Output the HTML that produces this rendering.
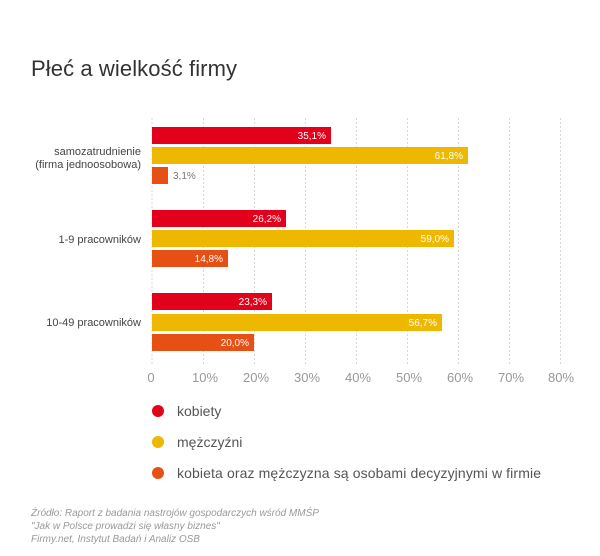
<!DOCTYPE html>
<html><head><meta charset="utf-8"><style>
body{margin:0;background:#fff;}
svg{display:block;font-family:"Liberation Sans",sans-serif;}
</style></head><body>
<svg width="600" height="556" viewBox="0 0 600 556">
<rect width="600" height="556" fill="#fff"/>
<text x="31" y="76" font-size="22" fill="#333" textLength="206">Płeć a wielkość firmy</text>
<g stroke="#d8d8d8" stroke-width="1" stroke-dasharray="2,2">
<line x1="152" y1="118" x2="152" y2="364"/>
<line x1="203.5" y1="118" x2="203.5" y2="364"/>
<line x1="254.5" y1="118" x2="254.5" y2="364"/>
<line x1="305.5" y1="118" x2="305.5" y2="364"/>
<line x1="356.5" y1="118" x2="356.5" y2="364"/>
<line x1="407.5" y1="118" x2="407.5" y2="364"/>
<line x1="458.5" y1="118" x2="458.5" y2="364"/>
<line x1="509.5" y1="118" x2="509.5" y2="364"/>
<line x1="560.5" y1="118" x2="560.5" y2="364"/>
</g>
<g font-size="13" fill="#999" text-anchor="middle">
<text x="151" y="382">0</text><text x="205" y="382">10%</text><text x="256" y="382">20%</text><text x="307" y="382">30%</text><text x="358" y="382">40%</text><text x="409" y="382">50%</text><text x="460" y="382">60%</text><text x="511" y="382">70%</text><text x="561" y="382">80%</text>
</g>
<g font-size="11" fill="#444" text-anchor="end">
<text x="141" y="155">samozatrudnienie</text><text x="141" y="168">(firma jednoosobowa)</text>
<text x="141" y="243">1-9 pracowników</text>
<text x="141" y="326">10-49 pracowników</text>
</g>
<g>
<rect x="152" y="127" width="179" height="17" fill="#e2001a"/>
<rect x="152" y="147" width="316" height="17" fill="#eeb800"/>
<rect x="152" y="167" width="16" height="17" fill="#e75014"/>
<rect x="152" y="210" width="134" height="17" fill="#e2001a"/>
<rect x="152" y="230" width="302" height="17" fill="#eeb800"/>
<rect x="152" y="250" width="76" height="17" fill="#e75014"/>
<rect x="152" y="293" width="120" height="17" fill="#e2001a"/>
<rect x="152" y="314" width="290" height="17" fill="#eeb800"/>
<rect x="152" y="334" width="102" height="17" fill="#e75014"/>
</g>
<g font-size="10" fill="#fff" text-anchor="end">
<text x="326" y="139">35,1%</text><text x="463" y="159">61,8%</text>
<text x="281" y="222">26,2%</text><text x="449" y="242">59,0%</text><text x="223" y="262">14,8%</text>
<text x="267" y="305">23,3%</text><text x="437" y="326">56,7%</text><text x="249" y="346">20,0%</text>
</g>
<text x="173" y="179" font-size="10" fill="#777">3,1%</text>
<circle cx="158" cy="411" r="6" fill="#e2001a"/><text x="177" y="416" font-size="14" fill="#555">kobiety</text>
<circle cx="158" cy="442" r="6" fill="#eeb800"/><text x="177" y="447" font-size="14" fill="#555">mężczyźni</text>
<circle cx="158" cy="473" r="6" fill="#e75014"/><text x="177" y="478" font-size="14" fill="#555" textLength="364">kobieta oraz mężczyzna są osobami decyzyjnymi w firmie</text>
<g font-size="10" fill="#999" font-style="italic">
<text x="31" y="516">Źródło: Raport z badania nastrojów gospodarczych wśród MMŚP</text>
<text x="31" y="529">"Jak w Polsce prowadzi się własny biznes"</text>
<text x="31" y="542">Firmy.net, Instytut Badań i Analiz OSB</text>
</g>
</svg>
</body></html>
